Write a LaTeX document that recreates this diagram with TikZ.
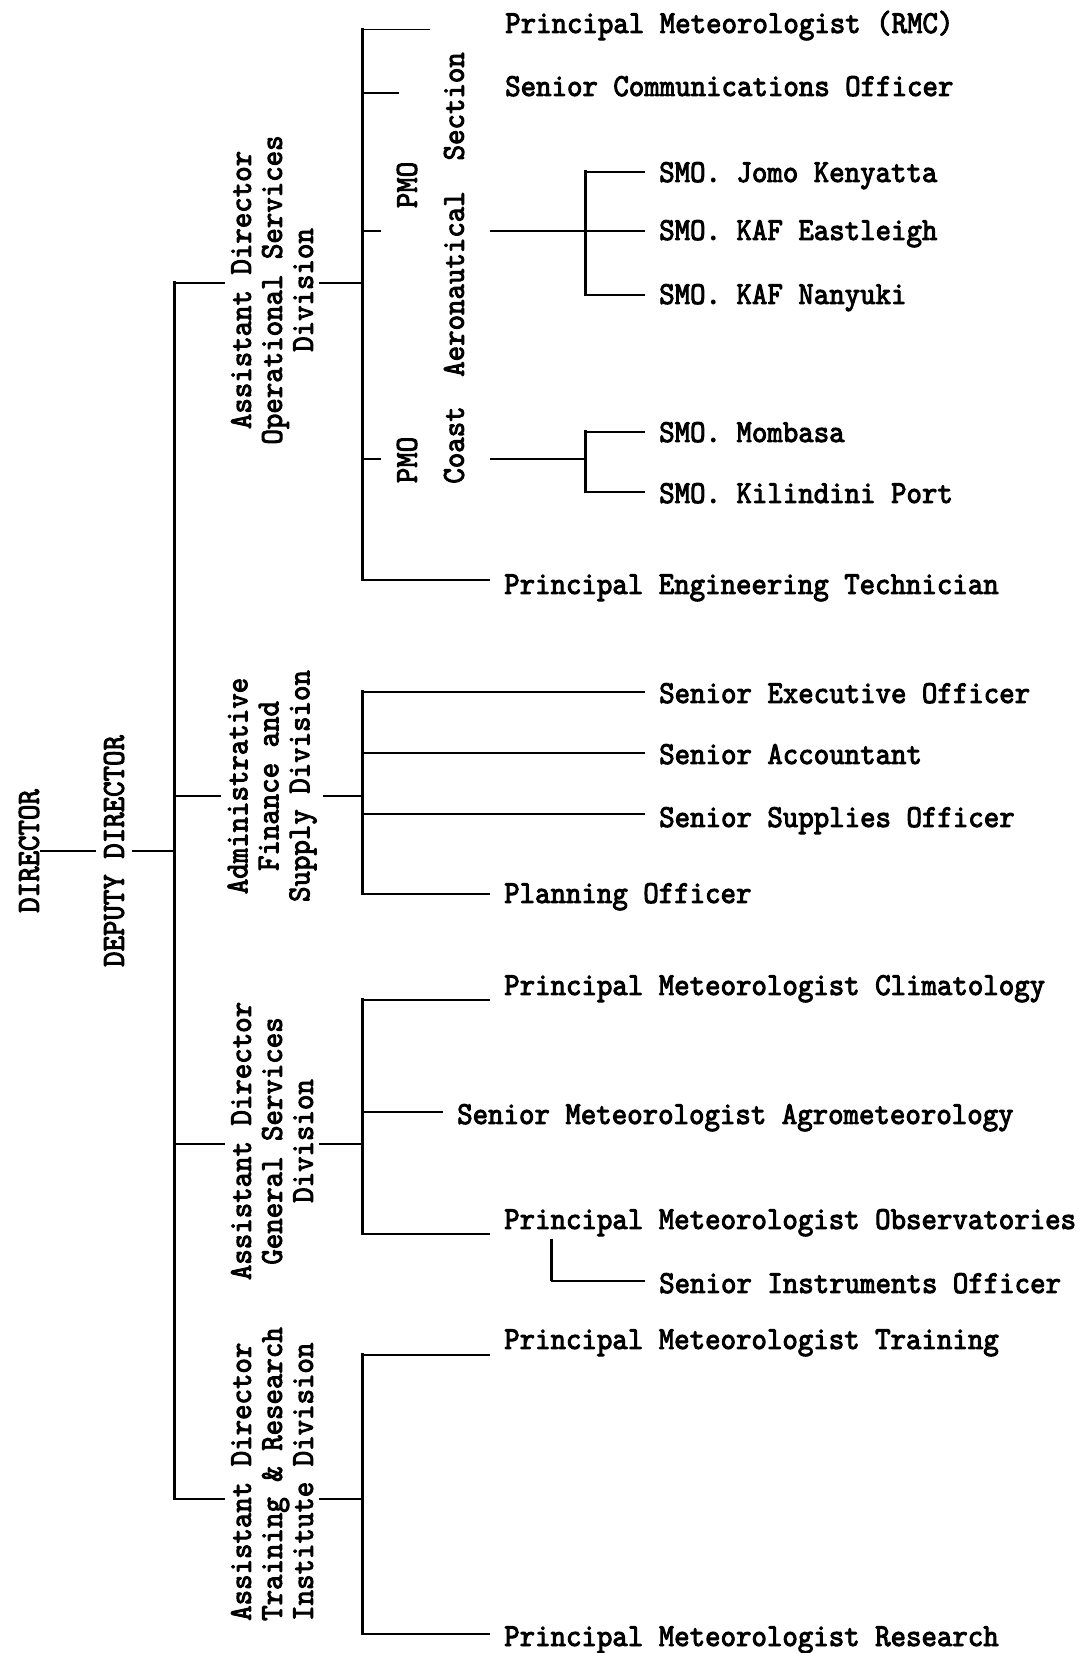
\documentclass[tikz,border=0pt]{standalone}
\usepackage{fontspec}
\newfontfamily\typew{lmmono10-regular.otf}[FakeStretch=0.92,FakeBold=3]
\begin{document}
\begin{tikzpicture}[line join=bevel,
  bus/.style={line width=3bp,line cap=rect},
  twig/.style={line width=1.6bp},
  post/.style={anchor=base west,inner xsep=14bp,inner ysep=2bp,font=\typew\fontsize{32bp}{31bp}\selectfont},
  head/.style={rotate=90,align=center,inner sep=6bp,font=\typew\fontsize{32bp}{31bp}\selectfont},
  pmo/.style={rotate=90,inner sep=16bp,font=\typew\fontsize{32bp}{31bp}\selectfont}]
\useasboundingbox (0,0) rectangle (1085bp,1653bp);
%%
\node (node_dir) at (29bp,802bp) [head,inner sep=1bp] {DIRECTOR};
\node (node_dd) at (114bp,802bp) [head,inner sep=8bp] {DEPUTY DIRECTOR};
\node (node_ops) at (272bp,1363bp) [head] {Assistant Director\\Operational Services\\Division};
\node (node_adm) at (272bp,867bp) [head] {Administrative\\Finance and\\Supply Division};
\node (node_gen) at (272bp,512bp) [head] {Assistant Director\\General Services\\Division};
\node (node_trn) at (272bp,179bp) [head,align=left] {Assistant Director\\Training \& Research\\Institute Division};
%
\coordinate (m_ops) at (174bp,1370bp);
\coordinate (m_dd) at (174bp,802bp);
\coordinate (m_adm) at (174bp,857bp);
\coordinate (m_gen) at (174bp,509bp);
\coordinate (m_trn) at (174bp,154bp);
\draw [bus] (m_ops) -- (m_trn);
\draw [twig] (node_dir.south) -- (node_dd.north);
\draw [twig] (node_dd.south) -- (m_dd);
\draw [twig] (m_ops) -- (m_ops -| node_ops.north);
\draw [twig] (m_adm) -- (m_adm -| node_adm.north);
\draw [twig] (m_gen) -- (m_gen -| node_gen.north);
\draw [twig] (m_trn) -- (m_trn -| node_trn.north);
%% operational services
\coordinate (o_rmc) at (362bp,1623.5bp);
\coordinate (o_sco) at (362bp,1560bp);
\coordinate (o_aero) at (362bp,1422bp);
\coordinate (o_div) at (362bp,1370bp);
\coordinate (o_coast) at (362bp,1194bp);
\coordinate (o_eng) at (362bp,1073bp);
\coordinate (rmc_end) at (430bp,1623.5bp);
\coordinate (sco_end) at (399bp,1560bp);
\draw [bus] (o_rmc) -- (o_eng);
\draw [twig] (node_ops.south |- o_div) -- (o_div);
\node (node_rmc) at (491bp,1620bp) [post] {Principal Meteorologist (RMC)};
\node (node_sco) at (491bp,1557bp) [post] {Senior Communications Officer};
\node (node_eng) at (490bp,1059bp) [post] {Principal Engineering Technician};
\draw [twig] (o_rmc) -- (rmc_end);
\draw [twig] (o_sco) -- (sco_end);
\draw [twig] (o_eng) -- (o_eng -| node_eng.west);
\node (node_aero_pmo) at (407bp,1468bp) [pmo] {PMO};
\node (node_aero) at (454bp,1438.5bp) [pmo,inner sep=26bp] {Aeronautical\ \ Section};
\node (node_coast_pmo) at (407bp,1193bp) [pmo] {PMO};
\node (node_coast) at (454bp,1208bp) [pmo,inner sep=26bp] {Coast};
%
\coordinate (a_top) at (585bp,1481bp);
\coordinate (a_mid) at (585bp,1422bp);
\coordinate (a_bot) at (585bp,1358bp);
\draw [bus] (a_top) -- (a_bot);
\draw [twig] (o_aero) -- (o_aero -| node_aero_pmo.north);
\draw [twig] (node_aero.south |- a_mid) -- (a_mid);
\node (node_jomo) at (645bp,1471bp) [post] {SMO. Jomo Kenyatta};
\node (node_east) at (645bp,1413bp) [post] {SMO. KAF Eastleigh};
\node (node_nany) at (645bp,1349bp) [post] {SMO. KAF Nanyuki};
\draw [twig] (a_top) -- (a_top -| node_jomo.west);
\draw [twig] (a_mid) -- (a_mid -| node_east.west);
\draw [twig] (a_bot) -- (a_bot -| node_nany.west);
%
\coordinate (c_top) at (585bp,1221bp);
\coordinate (c_mid) at (585bp,1194bp);
\coordinate (c_bot) at (585bp,1161bp);
\draw [bus] (c_top) -- (c_bot);
\draw [twig] (o_coast) -- (o_coast -| node_coast_pmo.north);
\draw [twig] (node_coast.south |- c_mid) -- (c_mid);
\node (node_mom) at (645bp,1211bp) [post] {SMO. Mombasa};
\node (node_kil) at (645bp,1150bp) [post] {SMO. Kilindini Port};
\draw [twig] (c_top) -- (c_top -| node_mom.west);
\draw [twig] (c_bot) -- (c_bot -| node_kil.west);
%% administrative
\coordinate (d_exec) at (362bp,961bp);
\coordinate (d_div) at (362bp,857bp);
\coordinate (d_acct) at (362bp,900bp);
\coordinate (d_supp) at (362bp,839bp);
\coordinate (d_plan) at (362bp,759bp);
\draw [bus] (d_exec) -- (d_plan);
\draw [twig] (node_adm.south |- d_div) -- (d_div);
\node (node_exec) at (645bp,950bp) [post] {Senior Executive Officer};
\node (node_acct) at (645bp,889bp) [post] {Senior Accountant};
\node (node_supp) at (645bp,826bp) [post] {Senior Supplies Officer};
\node (node_plan) at (490bp,750bp) [post] {Planning Officer};
\draw [twig] (d_exec) -- (d_exec -| node_exec.west);
\draw [twig] (d_acct) -- (d_acct -| node_acct.west);
\draw [twig] (d_supp) -- (d_supp -| node_supp.west);
\draw [twig] (d_plan) -- (d_plan -| node_plan.west);
%% general services
\coordinate (g_clim) at (362bp,653bp);
\coordinate (g_agro) at (362bp,541bp);
\coordinate (g_div) at (362bp,509bp);
\coordinate (g_obs) at (362bp,419bp);
\draw [bus] (g_clim) -- (g_obs);
\draw [twig] (node_gen.south |- g_div) -- (g_div);
\node (node_clim) at (490bp,658bp) [post] {Principal Meteorologist Climatology};
\node (node_agro) at (443bp,529bp) [post] {Senior Meteorologist Agrometeorology};
\node (node_obs) at (490bp,424bp) [post] {Principal Meteorologist Observatories};
\node (node_instr) at (645bp,360bp) [post] {Senior Instruments Officer};
\draw [twig] (g_clim) -- (g_clim -| node_clim.west);
\draw [twig] (g_agro) -- (g_agro -| node_agro.west);
\draw [twig] (g_obs) -- (g_obs -| node_obs.west);
\coordinate (obs_tap) at (551bp,414bp);
\coordinate (instr_bend) at (551bp,372bp);
\draw [bus,line cap=butt] (obs_tap) -- (instr_bend);
\draw [twig] (instr_bend) -- (instr_bend -| node_instr.west);
%% training and research
\coordinate (t_trn) at (362bp,298bp);
\coordinate (t_div) at (362bp,154bp);
\coordinate (t_res) at (362bp,19bp);
\draw [bus] (t_trn) -- (t_res);
\draw [twig] (node_trn.south |- t_div) -- (t_div);
\node (node_ptrn) at (490bp,304bp) [post] {Principal Meteorologist Training};
\node (node_res) at (490bp,7bp) [post] {Principal Meteorologist Research};
\draw [twig] (t_trn) -- (t_trn -| node_ptrn.west);
\draw [twig] (t_res) -- (t_res -| node_res.west);
%
\end{tikzpicture}
\end{document}
